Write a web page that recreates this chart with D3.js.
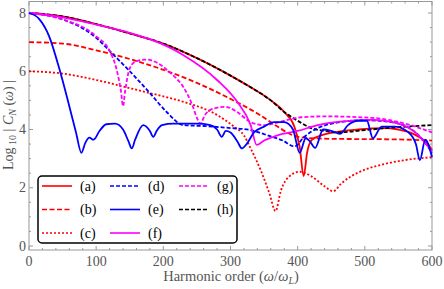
<!DOCTYPE html>
<html><head><meta charset="utf-8">
<script src="https://cdn.jsdelivr.net/npm/d3@7"></script>
<style>body{margin:0;background:#fff}svg{display:block}</style>
</head><body>
<script>
// ---- data ----
const labels = ["(a)","(b)","(c)","(d)","(e)","(f)","(g)","(h)"];
const colors = ["#ff0000","#ff0000","#ff0000","#0000ff","#0000ff","#ff00ff","#ff00ff","#000000"];
const dashes = [null,"5,2.5","2,2","4,2",null,null,"4,2","4,2"];
const xTicks = [0,100,200,300,400,500,600];
const yTicks = [0,2,4,6,8];

const seriesA = [[0,8],[50,7.88],[100,7.62],[150,7.3],[200,6.95],[250,6.45],[300,5.85],[330,5.45],[360,5.0],[380,4.6],[395,4.1],[403,3.4],[409,2.4],[414,3.2],[421,3.64],[435,3.8],[453,3.9],[490,4.0],[527,4.05],[550,4.0],[567,3.9],[580,3.75],[592,3.55],[600,3.3]];
const seriesB = [[0,7],[50,6.95],[100,6.72],[150,6.42],[200,6.05],[250,5.6],[300,5.05],[340,4.55],[370,4.1],[393,3.8],[410,3.72],[450,3.68],[500,3.67],[550,3.66],[600,3.62]];
const seriesC = [[0,6],[50,5.92],[100,5.7],[150,5.42],[180,5.25],[230,4.95],[280,4.5],[305,4.1],[320,3.8],[330,3.35],[345,2.6],[358,1.8],[367,1.2],[375,1.9],[388,2.4],[403,2.55],[420,2.4],[440,2.05],[453,1.88],[465,2.15],[480,2.4],[500,2.62],[530,2.82],[560,2.95],[600,3.05]];
const seriesD = [[0,8],[50,7.78],[100,7.15],[120,6.7],[150,6.0],[180,5.25],[205,4.6],[230,4.15],[260,4.12],[300,4.05],[330,3.98],[355,3.8],[378,3.62],[395,3.42],[410,3.75],[430,4.05],[455,4.22],[500,4.32],[540,4.25],[570,4.0],[588,3.6],[600,3.2]];
const seriesE = [[0,8],[15,7.8],[30,7.2],[45,6.1],[60,4.8],[70,3.9],[78,3.2],[84,3.55],[90,3.72],[96,3.65],[105,3.95],[115,4.18],[128,4.2],[140,4.0],[148,3.6],[153,3.35],[158,3.65],[170,4.15],[180,3.95],[185,3.75],[190,3.95],[198,4.15],[215,4.2],[250,4.2],[270,4.15],[280,4.0],[287,3.75],[293,3.95],[300,3.9],[310,3.6],[317,3.35],[324,3.5],[335,3.9],[350,4.1],[365,4.25],[380,4.25],[393,4.0],[403,3.2],[412,3.7],[418,3.6],[426,3.37],[438,4.0],[450,3.95],[463,3.85],[475,4.15],[490,4.3],[503,4.3],[512,3.7],[525,4.1],[545,4.1],[565,3.9],[576,3.5],[582,2.95],[590,3.65],[600,3.05]];
const seriesF = [[0,8],[50,7.85],[100,7.6],[150,7.32],[180,7.1],[230,6.55],[280,5.7],[310,4.95],[330,4.15],[339,3.47],[350,3.62],[370,3.8],[400,3.95],[430,4.15],[463,4.27],[510,4.33],[550,4.2],[580,3.8],[600,3.25]];
const seriesG = [[0,8],[50,7.78],[100,7.2],[120,6.7],[130,6.1],[137,5.3],[140,4.8],[143,5.3],[150,6.1],[160,6.35],[175,6.4],[190,6.3],[210,5.95],[230,5.45],[243,4.85],[250,4.4],[255,4.2],[262,4.5],[275,4.72],[292,4.78],[310,4.6],[330,4.25],[350,4.15],[380,4.3],[405,4.42],[440,4.45],[510,4.4],[560,4.2],[600,3.9]];
const seriesH = [[0,8],[50,7.88],[100,7.62],[150,7.3],[200,6.95],[250,6.45],[300,5.85],[330,5.45],[360,5.0],[380,4.6],[400,4.3],[420,4.05],[440,3.95],[460,3.9],[480,3.93],[500,3.98],[550,4.08],[600,4.15]];
const allSeries = [seriesA,seriesB,seriesC,seriesD,seriesE,seriesF,seriesG,seriesH];

// ---- drawing ----
const W=444,H=289;
const svg=d3.select("body").append("svg").attr("width",W).attr("height",H);
const x=d3.scaleLinear().domain([0,600]).range([29,432]);
const y=d3.scaleLinear().domain([0,8]).range([246,13]);
const frameTop=1.5,frameBottom=250;
const grey="#999";
const font="'Liberation Serif','DejaVu Serif',serif";

// frame
svg.append("rect").attr("x",x(0)).attr("y",frameTop).attr("width",x(600)-x(0)).attr("height",frameBottom-frameTop)
  .attr("fill","none").attr("stroke",grey).attr("stroke-width",1);

// ticks
const xMinor=d3.range(0,601,20), yMinor=d3.range(0,8.41,0.5);
xMinor.forEach(v=>{
  const major=v%100===0, L=major?4:2;
  svg.append("line").attr("x1",x(v)).attr("x2",x(v)).attr("y1",frameBottom).attr("y2",frameBottom-L).attr("stroke",grey);
  svg.append("line").attr("x1",x(v)).attr("x2",x(v)).attr("y1",frameTop).attr("y2",frameTop+L).attr("stroke",grey);
});
yMinor.forEach(v=>{
  const major=Math.abs(v%2)<1e-9, L=major?4:2;
  svg.append("line").attr("x1",x(0)).attr("x2",x(0)+L).attr("y1",y(v)).attr("y2",y(v)).attr("stroke",grey);
  svg.append("line").attr("x1",x(600)).attr("x2",x(600)-L).attr("y1",y(v)).attr("y2",y(v)).attr("stroke",grey);
});
xTicks.forEach(v=>svg.append("text").attr("x",x(v)).attr("y",266).attr("text-anchor","middle")
  .attr("font-family",font).attr("font-size",14).attr("fill","#555").text(v));
yTicks.forEach(v=>svg.append("text").attr("x",26).attr("y",y(v)+4.5).attr("text-anchor","end")
  .attr("font-family",font).attr("font-size",14).attr("fill","#555").text(v));

// curves
const line=d3.line().x(d=>x(d[0])).y(d=>y(d[1])).curve(d3.curveMonotoneX);
const order=[2,1,0,7,3,6,5,4];
order.forEach(i=>{
  svg.append("path").attr("d",line(allSeries[i])).attr("fill","none").attr("stroke",colors[i])
    .attr("stroke-width",1.8).attr("stroke-dasharray",dashes[i]).attr("stroke-linejoin","round");
});

// axis titles
const xt=svg.append("text").attr("x",231).attr("y",281).attr("text-anchor","middle")
  .attr("font-family",font).attr("font-size",14.5).attr("fill","#555");
xt.append("tspan").text("Harmonic order (");
xt.append("tspan").attr("font-style","italic").text("ω");
xt.append("tspan").text("/");
xt.append("tspan").attr("font-style","italic").text("ω");
xt.append("tspan").attr("font-style","italic").attr("font-size",10).attr("dy",3).text("L");
xt.append("tspan").attr("dy",-3).text(")");

const yt=svg.append("text").attr("transform","translate(13,125) rotate(-90)").attr("text-anchor","middle")
  .attr("font-family",font).attr("font-size",14).attr("fill","#555");
yt.append("tspan").text("Log");
yt.append("tspan").attr("font-size",10).attr("dy",3).text(" 10");
yt.append("tspan").attr("dy",-3).text(" | ");
yt.append("tspan").attr("font-style","italic").text("C");
yt.append("tspan").attr("font-style","italic").attr("font-size",10).attr("dy",3).text("N");
yt.append("tspan").attr("dy",-3).text(" (");
yt.append("tspan").attr("font-style","italic").text("ω");
yt.append("tspan").text(") |");

// legend
svg.append("rect").attr("x",38).attr("y",176).attr("width",199).attr("height",67).attr("rx",4)
  .attr("fill","#fff").attr("stroke","#000").attr("stroke-width",1.5);
const cols=[42,110,179], rows=[186,209.5,233];
labels.forEach((lab,i)=>{
  const c=Math.floor(i/3), r=i%3;
  const lx=cols[c], ly=rows[r];
  svg.append("line").attr("x1",lx).attr("x2",lx+30).attr("y1",ly).attr("y2",ly).attr("stroke",colors[i])
    .attr("stroke-width",1.6).attr("stroke-dasharray",dashes[i]);
  svg.append("text").attr("x",lx+38).attr("y",ly+4.5).attr("font-family",font).attr("font-size",14)
    .attr("fill","#000").text(lab);
});
</script>
</body></html>
